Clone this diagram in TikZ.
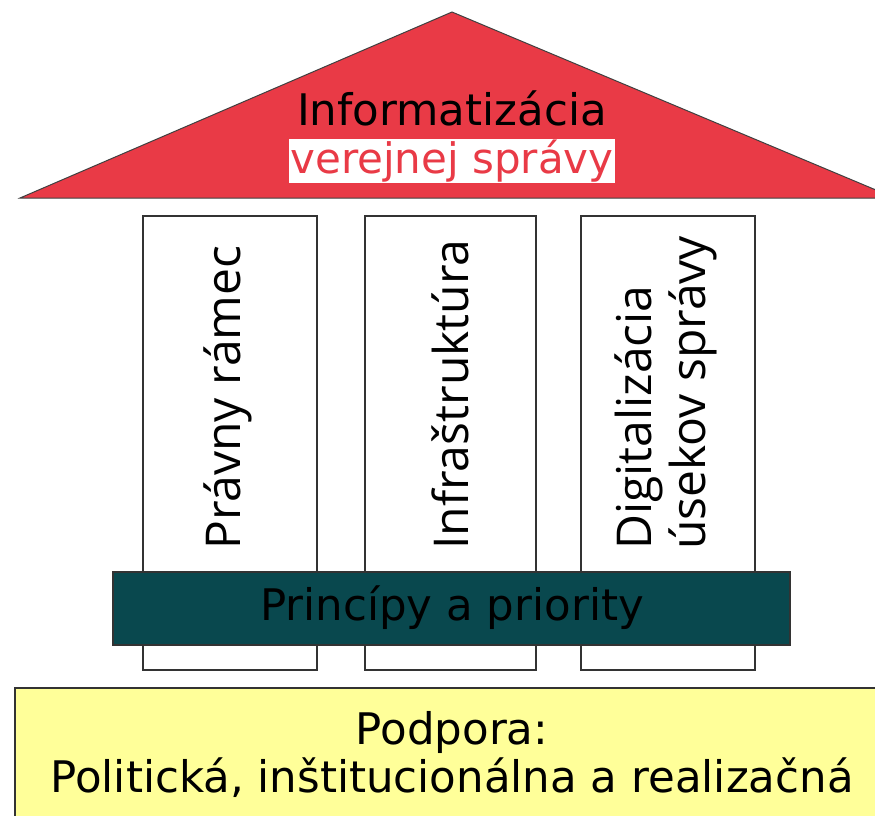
\documentclass[tikz,border=0pt]{standalone}
\usepackage{fontspec}
\setmainfont{DejaVu Sans}
\newfontfamily\pillarfont{Open Sans}
\definecolor{roofred}{RGB}{233,58,70}
\definecolor{bandteal}{RGB}{9,72,78}
\definecolor{baseyellow}{RGB}{255,255,153}
\begin{document}
\begin{tikzpicture}[x=1pt,y=-1pt,
	pillar/.style={draw=black!80,fill=white,line width=1.2pt},
	pillartext/.style={rotate=90,anchor=west,align=left,inner sep=0pt,font=\pillarfont\fontsize{48}{54}\selectfont}]
	\useasboundingbox (0,0) rectangle (875,816);
	\draw[fill=roofred,draw=black!75,line width=1pt] (20,198)--(452,12)--(895,198)--cycle;
	\node[font=\fontsize{43.5}{46}\selectfont] (nadpis) at (452,108) {Informatizácia};
	\node[fill=white,text=roofred,inner sep=1pt,font=\fontsize{42}{46}\selectfont] (podnadpis) at (452,161) {verejnej správy};
	\draw[pillar] (143,216) rectangle (317,670);
	\draw[pillar] (365,216) rectangle (536,670);
	\draw[pillar] (581,216) rectangle (755,670);
	\node[pillartext] (pravo) at (228,550) {Právny rámec};
	\node[pillartext] (infra) at (450,550) {Infraštruktúra};
	\node[pillartext] (digi) at (666,550) {Digitalizácia\\úsekov správy};
	\draw[fill=bandteal,draw=black!80,line width=1.2pt] (113,572) rectangle (790,645);
	\node[font=\fontsize{43.5}{46}\selectfont,text=black] (principy) at (452,608) {Princípy a priority};
	\draw[fill=baseyellow,draw=black!80,line width=1.2pt] (15,688) rectangle (890,830);
	\node[font=\fontsize{43.5}{48}\selectfont,align=center] (podpora) at (452,754) {Podpora:\\Politická, inštitucionálna a realizačná};
\end{tikzpicture}
\end{document}
